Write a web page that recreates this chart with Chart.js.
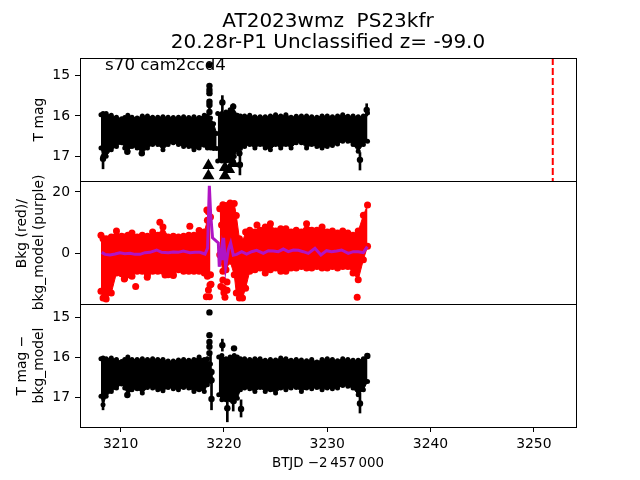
<!DOCTYPE html>
<html>
<head>
<meta charset="utf-8">
<title>AT2023wmz</title>
<script src="https://cdn.jsdelivr.net/npm/chart.js@4"></script>
<style>
html, body { margin: 0; padding: 0; background: #fff; }
canvas { display: block; }
</style>
</head>
<body>
<canvas id="lc" width="640" height="480"></canvas>
<script>
const titleLines = ['AT2023wmz  PS23kfr', '20.28r-P1 Unclassified z= -99.0'];
const noteText = 's70 cam2ccd4';
const xLabel = 'BTJD \u22122\u2009457\u2009000';
const xTicks = [3210, 3220, 3230, 3240, 3250];
const magTicks = [15, 16, 17];
const bkgTicks = [20, 0];
const residTicks = [15, 16, 17];

const leftT = [3208.1,3208.3,3208.6,3209.1,3209.6,3210.1,3210.4,3210.7,3211.1,3211.6,3212.1,3212.6,3213.1,3213.6,3214.1,3214.6,3215.1,3215.6,3216.1,3216.6,3217.1,3217.6,3218.1,3218.4,3218.7];
const magLeftT = leftT.concat([3219.0, 3219.3]);
const magLeftTop = [15.97,15.94,15.94,15.98,16.03,16.07,16.04,15.98,16.03,16.05,16.0,16.0,16.03,16.03,16.02,16.03,16.04,16.03,16.02,16.04,16.02,16.04,15.98,16.0,16.05,16.19,16.43];
const magLeftBot = [16.79,16.99,16.99,16.83,16.75,16.66,16.79,16.87,16.75,16.79,16.91,16.79,16.70,16.70,16.83,16.70,16.66,16.70,16.75,16.75,16.83,16.79,16.72,16.79,16.79,16.8,16.8];
const rightT = [3222,3222.5,3223,3223.5,3224,3224.5,3225,3225.5,3226,3226.5,3227,3227.5,3228,3228.5,3229,3229.5,3230,3230.5,3231,3231.5,3232,3232.5,3233,3233.5,3233.9];
const magRightT = [3219.4,3219.8,3220.2,3220.6,3220.9,3221.0,3221.3,3221.6].concat(rightT);
const magRightTop = [15.94,15.94,15.9,15.85,15.9,15.94,15.98,16.0,16.0,15.985,16.02,16.02,16.02,16.0,15.97,16.0,15.97,16.03,16.01,16.0,16.0,16.02,16.03,16.0,16.0,16.02,16.0,15.97,16.01,16.0,16.02,16.0,15.93];
const magRightBot = [17.11,17.11,17.11,17.11,17.11,17.0,16.83,16.8,16.75,16.70,16.79,16.70,16.79,16.83,16.70,16.79,16.70,16.79,16.66,16.66,16.79,16.70,16.75,16.79,16.75,16.73,16.69,16.62,16.62,16.70,16.87,16.70,16.62];

const magDotT = [3218.6,3218.6,3218.6,3218.6,3218.6,3218.6,3218.6,3219.85,3220.9,3221.55,3221.5,3233.17,3233.82,3210.65,3208.3,3212.05];
const magDotY = [14.75,15.26,15.36,15.44,15.65,15.73,15.9,15.67,15.77,17.2,16.92,17.08,15.85,16.88,17.05,16.92];
const magErrT = [3218.6,3218.6,3219.85,3221.55,3233.17,3208.3,3220.9,3233.82];
const magErrLo = [15.2,15.6,15.5,16.9,16.9,16.9,15.7,15.7];
const magErrHi = [15.5,15.9,15.9,17.45,17.33,17.3,16.0,16.0];
const limitT = [3218.5,3218.5,3220.1,3220.1,3220.9,3220.5];
const limitY = [17.22,17.47,17.27,17.47,17.17,17.32];
const triggerT = [3251.83, 3251.83];
const triggerY = [14.575, 17.6];

const bkgLeftT = leftT;
const bkgLeftTop = [5.8,4.7,4.7,5.25,7.2,5.46,5.25,5.8,6.55,5.25,5.8,5.46,6.9,5.8,8.5,5.25,5.46,5.25,5.46,5.8,5.8,7.4,6.9,10.7,11.8];
const bkgLeftBot = [-12.56,-14.75,-15.1,-13.1,-6.55,-6.77,-8.2,-7.1,-7.64,-6,-6,-7.1,-6,-6,-6,-7.1,-7.1,-5.46,-6,-6,-6,-6,-6.55,-7.64,-7.1];
const bkgRightT = [3219.6,3219.9,3220.2,3220.6,3221.0,3221.2,3221.5,3221.8,3222.1,3222.5,3223,3223.5,3224,3224.5,3225,3225.5,3226,3226.5,3227,3227.5,3228,3228.5,3229,3229.5,3230,3230.5,3231,3231.5,3232,3232.5,3233,3233.5,3233.9];
const bkgRightTop = [14.5,15.85,15.6,16.4,16.2,12.3,4.7,3.6,6.9,7.43,6.88,7.43,8.52,9.6,7.2,7.98,7.98,6.88,7.43,6.88,9.6,7.43,7.43,8.52,6.88,7.2,6.56,7.2,6.56,5.8,7.2,12.35,15.7];
const bkgRightBot = [-0.6,-6,-5.5,-2.7,-7.1,-13.1,-14.76,-14.76,-11.5,-6,-5.46,-4.9,-6.55,-5.46,-4.9,-6,-6,-4.9,-4.9,-4.4,-4.9,-4.9,-4.4,-4.9,-4.9,-4.4,-4.9,-4.4,-4.4,-6.55,-8.74,-2.2,2.2];
const bkgDotT = [3211.46,3210.36,3212.58,3214.3,3215.1,3218.3,3218.6,3218.65,3218.5,3218.75,3218.5,3219.77,3218.35,3218.5,3219.95,3219.7,3220.3,3220.1,3220.0,3219.9,3220.3,3232.9,3213.8,3216.7,3223.2];
const bkgDotY = [-11,-8.5,-7.9,-7.2,-7.4,-14.3,-14.3,-10.5,-12.1,-10.2,-7.2,9.2,14.1,13.5,-11.5,-11,-9.5,-14.5,-13,-8.8,-12.2,-14.5,10.1,8.8,9.2];

const modelT = [3208.17,3208.49,3208.97,3209.46,3209.94,3210.42,3210.91,3211.39,3211.88,3212.36,3212.84,3213.49,3213.97,3214.62,3215.1,3215.58,3216.07,3216.71,3217.2,3217.68,3218.17,3218.42,3218.59,3218.71,3218.9,3219.46,3219.55,3219.78,3219.88,3219.97,3220.17,3220.42,3220.65,3220.91,3221.23,3221.72,3222.2,3222.68,3223.17,3223.81,3224.3,3224.78,3225.26,3225.75,3226.23,3226.72,3227.2,3227.68,3228.17,3228.81,3229.39,3229.94,3230.42,3230.91,3231.39,3232.04,3232.52,3233.0,3233.49,3233.88];
const modelY = [0.22,-0.44,-0.65,-0.33,0.11,-0.22,-0.11,-0.44,-0.44,0.11,0.22,0.99,0.22,0.11,0.33,0.22,0.66,0.11,0.22,0.22,-0.33,1.6,22,13,5,3.3,-4.5,1.5,-2.3,5,-4.5,1,3.3,-0.7,-0.43,0.44,-0.33,0.44,0.88,-0.11,0.77,0.66,0.44,1.3,0.44,0.99,0.88,0.44,-0.11,1.53,-0.65,0.77,0.44,0.66,0.99,-0.11,0.44,0.44,0.11,2.08];

const residLeftT = leftT;
const residLeftTop = [16.04,16.025,16.04,16.025,16.06,16.11,16.06,16.0,16.06,16.06,16.04,16.06,16.04,16.06,16.06,16.1,16.1,16.07,16.06,16.08,16.06,16.0,16.06,16.04,16.17];
const residLeftBot = [16.98,17.19,16.98,16.86,16.775,16.675,16.775,16.94,16.82,16.79,16.9,16.76,16.775,16.82,16.84,16.76,16.79,16.82,16.76,16.775,16.86,16.82,16.86,16.69,16.61];
const residRightT = [3219.5,3219.8,3220.2,3220.6,3221.0,3221.3,3221.6].concat(rightT);
const residRightTop = [16.0,15.96,16.04,16.0,15.96,16.0,16.04,16.04,16.06,16.04,16.04,16.08,16.06,16.07,16.025,16.04,16.08,16.06,16.07,16.09,16.06,16.125,16.06,16.04,16.06,16.09,16.04,16.06,16.08,16.08,16.04,15.96];
const residRightBot = [16.94,17.07,17.07,17.07,17.11,17.03,16.82,16.775,16.79,16.86,16.76,16.86,16.82,16.9,16.775,16.82,16.775,16.76,16.86,16.775,16.79,16.76,16.82,16.775,16.79,16.775,16.71,16.73,16.775,16.94,16.82,16.61];
const residDotT = [3218.6,3218.6,3218.6,3218.6,3218.6,3218.8,3218.8,3218.8,3219.85,3220.98,3220.33,3221.66,3220.9,3233.17,3233.88,3210.65];
const residDotY = [14.88,15.45,15.62,15.74,15.9,16.37,16.58,17.05,15.7,15.78,17.28,17.3,17.1,17.16,15.97,16.95];
const residErrT = [3218.7,3218.8,3219.85,3220.33,3221.66,3220.9,3233.17,3208.3];
const residErrLo = [15.9,16.3,15.55,16.99,17.07,17.0,16.9,17.0];
const residErrHi = [16.6,17.32,15.85,17.62,17.5,17.35,17.4,17.32];

const FONT = '"DejaVu Sans"';

function xy(ts, ys) {
    return ts.map((t, i) => ({ x: t, y: ys[i] }));
}

function band(ts, top, bot, color, axis, radius) {
    const common = { yAxisID: axis, borderColor: color, backgroundColor: color, pointBackgroundColor: color, pointBorderWidth: 0, pointRadius: radius, borderWidth: 1, clip: 0 };
    return [
        Object.assign({ data: xy(ts, top), fill: '+1' }, common),
        Object.assign({ data: xy(ts, bot), fill: false }, common)
    ];
}

function dots(ts, ys, color, axis, radius) {
    return { data: xy(ts, ys), yAxisID: axis, showLine: false, pointRadius: radius, pointBorderWidth: 0, pointBackgroundColor: color, clip: 0 };
}

function errs(ts, lo, hi, color, axis) {
    return { type: 'bar', data: ts.map((t, i) => ({ x: t, y: [lo[i], hi[i]] })), yAxisID: axis, backgroundColor: color, barThickness: 2, grouped: false, clip: 0 };
}

function yAxis(min, max, ticks, title, reverse) {
    return {
        type: 'linear',
        stack: 'panels',
        stackWeight: 1,
        min: min,
        max: max,
        reverse: reverse,
        border: { display: false },
        grid: { drawOnChartArea: false, color: '#000', tickLength: 5, tickWidth: 1 },
        ticks: { color: '#000', font: { family: FONT, size: 13.9 }, padding: 5, autoSkip: false },
        title: { display: true, text: title, color: '#000', font: { family: FONT, size: 13.9 }, padding: { top: 14, bottom: 0 } },
        afterBuildTicks: axis => { axis.ticks = ticks.map(v => ({ value: v })); },
        afterFit: axis => { axis.width = 80; }
    };
}

const panelFrames = {
    id: 'panelFrames',
    afterDatasetsDraw(chart) {
        const ctx = chart.ctx;
        ctx.save();
        ctx.strokeStyle = '#000';
        ctx.lineWidth = 1;
        ['yMag', 'yBkg', 'yResid'].forEach(id => {
            const s = chart.scales[id];
            ctx.strokeRect(Math.round(s.right) + 0.5, Math.round(s.top) + 0.5, Math.round(chart.chartArea.right - s.right), Math.round(s.bottom - s.top));
        });
        ctx.fillStyle = '#000';
        ctx.font = '16.67px ' + FONT;
        ctx.textBaseline = 'alphabetic';
        ctx.fillText(noteText, chart.scales.x.getPixelForValue(3208.5), chart.scales.yMag.getPixelForValue(14.87));
        ctx.restore();
    }
};

// chart.js paints the first dataset last, so the marks that sit on top come first
new Chart(document.getElementById('lc'), {
    type: 'line',
    data: {
        datasets: [
            { data: xy(triggerT, triggerY), yAxisID: 'yMag', borderColor: '#f00', borderWidth: 2, borderDash: [7, 3], pointRadius: 0, fill: false },
            dots(magDotT, magDotY, '#000', 'yMag', 3.2),
            errs(magErrT, magErrLo, magErrHi, '#000', 'yMag'),
            { data: xy(limitT, limitY), yAxisID: 'yMag', showLine: false, pointStyle: 'triangle', pointRadius: 7, pointBorderWidth: 0, pointBackgroundColor: '#000', clip: 0 },
            ...band(magLeftT, magLeftTop, magLeftBot, '#000', 'yMag', 2.5),
            ...band(magRightT, magRightTop, magRightBot, '#000', 'yMag', 2.5),

            { data: xy(modelT, modelY), yAxisID: 'yBkg', borderColor: 'rgb(176,20,196)', borderWidth: 3, pointRadius: 0, fill: false, clip: 0 },
            dots(bkgDotT, bkgDotY, '#f00', 'yBkg', 3.5),
            ...band(bkgLeftT, bkgLeftTop, bkgLeftBot, '#f00', 'yBkg', 3.5),
            ...band(bkgRightT, bkgRightTop, bkgRightBot, '#f00', 'yBkg', 3.5),

            dots(residDotT, residDotY, '#000', 'yResid', 3.2),
            errs(residErrT, residErrLo, residErrHi, '#000', 'yResid'),
            ...band(residLeftT, residLeftTop, residLeftBot, '#000', 'yResid', 2.5),
            ...band(residRightT, residRightTop, residRightBot, '#000', 'yResid', 2.5)
        ]
    },
    options: {
        responsive: false,
        animation: false,
        layout: { padding: { left: 0, right: 64, top: 0, bottom: 0 } },
        plugins: {
            legend: { display: false },
            tooltip: { enabled: false },
            title: {
                display: true,
                fullSize: false,
                text: titleLines,
                color: '#000',
                font: { family: FONT, size: 20, weight: 'normal', lineHeight: 1.05 },
                padding: { top: 11, bottom: 5 }
            }
        },
        scales: {
            x: {
                type: 'linear',
                min: 3206.07,
                max: 3254.08,
                offset: false,
                border: { display: false },
                grid: { offset: false, drawOnChartArea: false, color: '#000', tickLength: 5 },
                ticks: { color: '#000', font: { family: FONT, size: 13.9 }, padding: 4, maxRotation: 0, autoSkip: false, callback: v => String(v) },
                title: { display: true, text: xLabel, color: '#000', font: { family: FONT, size: 13.4 }, padding: { top: 4, bottom: 8 } },
                afterBuildTicks: axis => { axis.ticks = xTicks.map(v => ({ value: v })); },
                afterFit: axis => { axis.height = 53; }
            },
            yResid: yAxis(14.67, 17.75, residTicks, ['T mag \u2212', 'bkg_model'], true),
            yBkg: yAxis(-16.7, 23.6, bkgTicks, ['    Bkg (red)/', 'bkg_model (purple)'], false),
            yMag: yAxis(14.575, 17.6, magTicks, ['', 'T mag'], true)
        }
    },
    plugins: [panelFrames]
});
</script>
</body>
</html>
